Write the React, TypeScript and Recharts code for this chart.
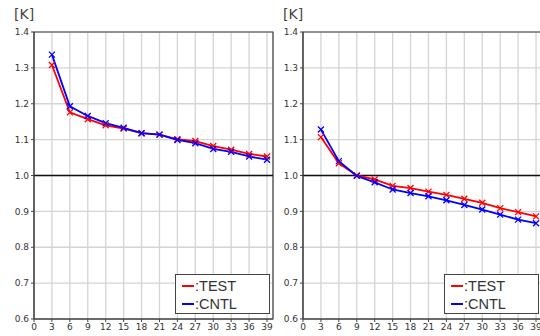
import { LineChart, Line, XAxis, YAxis, CartesianGrid, ReferenceLine, ReferenceArea, Legend } from "recharts"

// forecast hour on the x axis
const hours = [3, 6, 9, 12, 15, 18, 21, 24, 27, 30, 33, 36, 39]
const xTicks = [0, 3, 6, 9, 12, 15, 18, 21, 24, 27, 30, 33, 36, 39]
const yTicks = [0.6, 0.7, 0.8, 0.9, 1.0, 1.1, 1.2, 1.3, 1.4]

// left panel
const leftTest = [1.308, 1.176, 1.157, 1.14, 1.131, 1.118, 1.114, 1.101, 1.096, 1.082, 1.072, 1.06, 1.053]
const leftCntl = [1.337, 1.193, 1.166, 1.146, 1.133, 1.118, 1.114, 1.099, 1.09, 1.074, 1.066, 1.053, 1.044]

// right panel
const rightTest = [1.107, 1.034, 1.0, 0.989, 0.971, 0.965, 0.955, 0.946, 0.935, 0.924, 0.909, 0.898, 0.886]
const rightCntl = [1.128, 1.04, 0.999, 0.981, 0.961, 0.951, 0.942, 0.931, 0.918, 0.905, 0.891, 0.877, 0.867]

const seriesNames = [":TEST", ":CNTL"]
const seriesColors = ["#ff0000", "#0000ff"]

const tickStyle = { fontSize: 9, fill: "#333", fontFamily: "DejaVu Sans" }

const cross = (color: string) => (props: any) => {
  const { cx, cy, index } = props
  if (cx == null || cy == null) return <g key={index} />
  const s = 3
  return (
    <path
      key={index}
      d={`M${cx - s},${cy - s}L${cx + s},${cy + s}M${cx - s},${cy + s}L${cx + s},${cy - s}`}
      stroke={color}
      strokeWidth={1.3}
      fill="none"
    />
  )
}

function LegendBox() {
  return (
    <div
      style={{
        border: "1px solid #444",
        background: "#fff",
        width: 95,
        height: 40,
        boxSizing: "border-box",
        padding: "2px 0 0 6px",
        fontFamily: "'Liberation Sans', Arial",
        fontSize: 14.5,
        lineHeight: "18px",
        color: "#333",
      }}
    >
      {seriesNames.map((n, i) => (
        <div key={n} style={{ display: "flex", alignItems: "center", height: 18 }}>
          <span style={{ display: "inline-block", width: 12, height: 2, background: seriesColors[i], marginRight: 1 }} />
          {n}
        </div>
      ))}
    </div>
  )
}

function Panel({ test, cntl, left }: { test: number[]; cntl: number[]; left: number }) {
  const data = hours.map((h, i) => ({ h, test: test[i], cntl: cntl[i] }))
  return (
    <div style={{ position: "absolute", left, top: 0, width: 280, height: 336 }}>
      <div
        style={{
          position: "absolute",
          left: 14,
          top: 6,
          fontFamily: "DejaVu Sans",
          fontSize: 14,
          color: "#444",
        }}
      >
        [K]
      </div>
      <LineChart width={280} height={336} data={data} margin={{ top: 32, right: 7, bottom: 0, left: 0 }}>
        <CartesianGrid stroke="#d4d4d4" strokeWidth={1.3} />
        <XAxis
          dataKey="h"
          type="number"
          domain={[0, 40]}
          ticks={xTicks}
          interval={0}
          height={17}
          tick={tickStyle}
          tickSize={3}
          tickMargin={2}
          stroke="#444"
          allowDataOverflow
        />
        <YAxis
          type="number"
          domain={[0.6, 1.4]}
          ticks={yTicks}
          width={34}
          tick={tickStyle}
          tickSize={3}
          tickMargin={2}
          tickFormatter={(v: number) => v.toFixed(1)}
          stroke="#444"
          allowDataOverflow
        />
        <ReferenceArea x1={0} x2={40} y1={0.6} y2={1.4} fill="none" stroke="#444" strokeWidth={1.2} />
        <ReferenceLine y={1.0} stroke="#111" strokeWidth={1.5} />
        <Line
          dataKey="test"
          stroke={seriesColors[0]}
          strokeWidth={1.8}
          dot={cross(seriesColors[0])}
          isAnimationActive={false}
        />
        <Line
          dataKey="cntl"
          stroke={seriesColors[1]}
          strokeWidth={1.8}
          dot={cross(seriesColors[1])}
          isAnimationActive={false}
        />
        <Legend
          layout="vertical"
          align="center"
          verticalAlign="middle"
          content={() => <LegendBox />}
          wrapperStyle={{ left: 175, top: 274, width: 96, height: 41 }}
        />
      </LineChart>
    </div>
  )
}

export default function App() {
  return (
    <div
      style={{
        position: "absolute",
        left: 0,
        top: 0,
        width: 540,
        height: 336,
        overflow: "hidden",
        background: "#fff",
      }}
    >
      <Panel test={leftTest} cntl={leftCntl} left={0} />
      <Panel test={rightTest} cntl={rightCntl} left={269} />
    </div>
  )
}
